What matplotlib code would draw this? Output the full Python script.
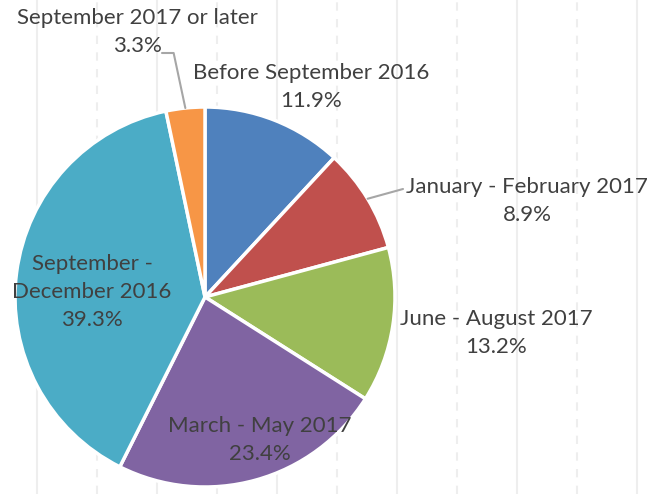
import matplotlib.pyplot as plt
import numpy as np

# Data (clockwise from 12 o'clock)
categories = ["Before September 2016", "January - February 2017", "June - August 2017",
              "March - May 2017", "September -\nDecember 2016", "September 2017 or later"]
shares = [11.9, 8.9, 13.2, 23.4, 39.3, 3.3]
colors = ["#4F81BD", "#C0504D", "#9BBB59", "#8064A2", "#4BACC6", "#F79646"]

# label block centres in pixels (x, y from top)
label_pos = [(311, 87), (527, 201), (496, 333), (260, 440), (92, 292), (137, 32)]

W, H = 648, 494
fig = plt.figure(figsize=(W / 100, H / 100), dpi=100)
plt.rcParams['font.family'] = ['Lato', 'DejaVu Sans']

# background grid in pixel space
bg = fig.add_axes([0, 0, 1, 1])
bg.set_xlim(0, W)
bg.set_ylim(H, 0)
bg.axis('off')
for i, gx in enumerate(range(37, W, 60)):
    bg.axvline(gx, color='#eeeeee', lw=1.5, ls='-' if i % 2 == 0 else (0, (4, 4)), zorder=0)

# pie centred at (205, 297) with radius 190 px
cx, cy, r = 205, 297, 190
ax = fig.add_axes([(cx - r) / W, (H - cy - r) / H, 2 * r / W, 2 * r / H])
wedges, _ = ax.pie(shares, colors=colors, startangle=90, counterclock=False,
                   wedgeprops=dict(edgecolor='white', linewidth=2.5))
ax.set_xlim(-1, 1)
ax.set_ylim(-1, 1)
ax.set_aspect('equal')
ax.axis('off')

# overlay for labels so they sit above the wedges
top = fig.add_axes([0, 0, 1, 1])
top.set_xlim(0, W)
top.set_ylim(H, 0)
top.axis('off')
top.patch.set_alpha(0)

for cat, val, (lx, ly) in zip(categories, shares, label_pos):
    top.text(lx, ly, f"{cat}\n{val:.1f}%", ha='center', va='center', fontsize=16,
             color='#404040', linespacing=1.5)

# leader lines for the two outside labels
def edge_point(w):
    a = np.deg2rad((w.theta1 + w.theta2) / 2)
    return np.cos(a), np.sin(a)

ex, ey = edge_point(wedges[1])
ax.annotate("", xy=(ex, ey), xytext=((403 - cx) / r, (cy - 189) / r),
            arrowprops=dict(arrowstyle='-', color='#a6a6a6', lw=1.5,
                            shrinkA=0, shrinkB=0), annotation_clip=False)
ex, ey = edge_point(wedges[5])
ax.annotate("", xy=(ex, ey), xytext=((162 - cx) / r, (cy - 53) / r),
            arrowprops=dict(arrowstyle='-', color='#a6a6a6', lw=1.5, shrinkA=0, shrinkB=0,
                            connectionstyle='angle,angleA=0,angleB=102,rad=0'),
            annotation_clip=False)

fig.savefig("out.png", dpi=100)
